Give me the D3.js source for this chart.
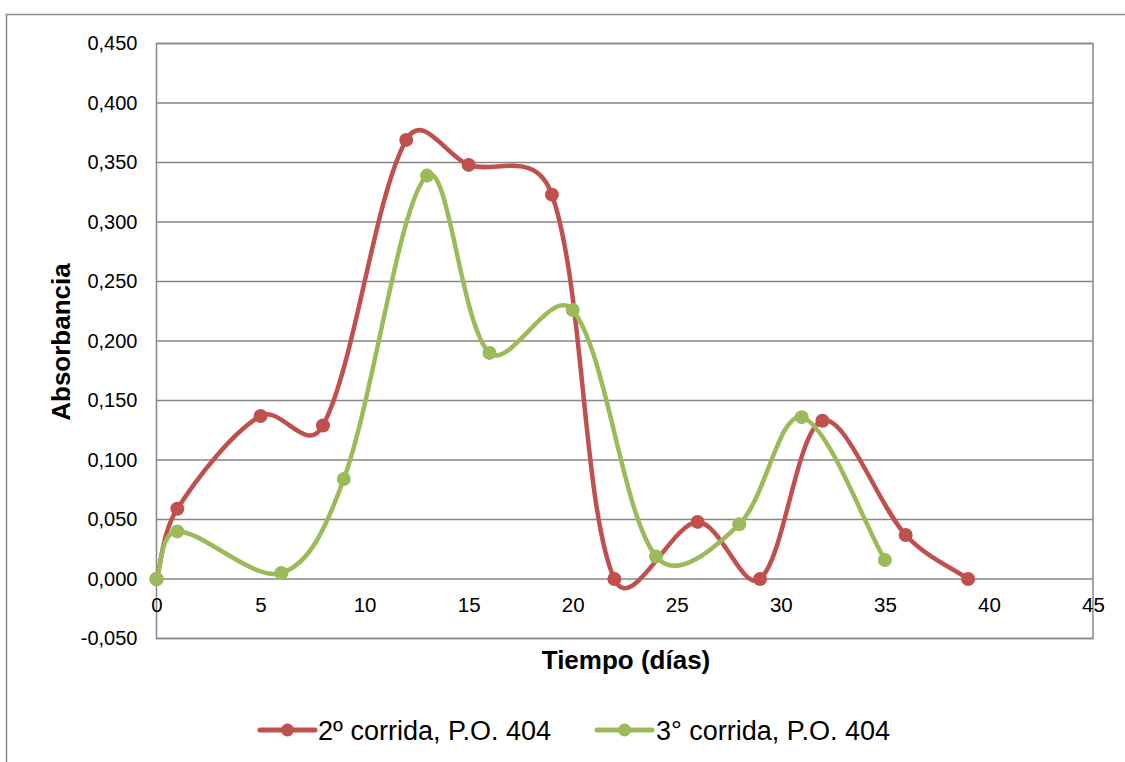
<!DOCTYPE html>
<html>
<head>
<meta charset="utf-8">
<script src="https://cdn.jsdelivr.net/npm/d3@7"></script>
<style>
  html, body { margin: 0; padding: 0; background: #fff; }
  svg { display: block; font-family: "Liberation Sans", Arial, sans-serif; }
</style>
</head>
<body>
<svg id="chart" width="1125" height="762"></svg>
<script>
// Absorbance readings over time (days)
const dias2 = [0, 1, 5, 8, 12, 15, 19, 22, 26, 29, 32, 36, 39];
const abs2  = [0.000, 0.059, 0.137, 0.129, 0.369, 0.348, 0.323, 0.000, 0.048, 0.000, 0.133, 0.037, 0.000];
const dias3 = [0, 1, 6, 9, 13, 16, 20, 24, 28, 31, 35];
const abs3  = [0.000, 0.040, 0.005, 0.084, 0.339, 0.190, 0.226, 0.019, 0.046, 0.136, 0.016];

const seriesNames = ["2º corrida, P.O. 404", "3° corrida, P.O. 404"];
const seriesColors = ["#c0504d", "#9bbb59"];

const xTicks = [0, 5, 10, 15, 20, 25, 30, 35, 40, 45];
const yTicks = [-0.05, 0, 0.05, 0.1, 0.15, 0.2, 0.25, 0.3, 0.35, 0.4, 0.45];

const svg = d3.select("#chart");
const plot = { left: 156.5, right: 1093, top: 43.5, bottom: 638.5 };

const x = d3.scaleLinear().domain([0, 45]).range([plot.left, plot.right]);
const y = d3.scaleLinear().domain([-0.05, 0.45]).range([plot.bottom, plot.top]);
const fmt = v => d3.format(".3f")(v).replace(".", ",").replace("−", "-");

// Spreadsheet-style smoothing: cubic Bézier segments; each tangent mixes a
// uniform Catmull-Rom weight with one scaled by neighbouring chord lengths.
function curveSmooth(context) {
  let pts = [];
  const mix = 0.5;
  return {
    areaStart() {}, areaEnd() {},
    lineStart() { pts = []; },
    point(px, py) { pts.push([+px, +py]); },
    lineEnd() {
      const n = pts.length;
      if (!n) return;
      const dist = (a, b) => Math.hypot(b[0] - a[0], b[1] - a[1]);
      const weight = (dNear, dFar) =>
        (1 - mix) / 6 + mix * (dNear + dFar > 0 ? dNear / (dNear + dFar) / 3 : 0);
      context.moveTo(pts[0][0], pts[0][1]);
      for (let i = 0; i < n - 1; i++) {
        const p0 = pts[Math.max(i - 1, 0)], p1 = pts[i], p2 = pts[i + 1], p3 = pts[Math.min(i + 2, n - 1)];
        const d01 = dist(p0, p1), d12 = dist(p1, p2), d23 = dist(p2, p3);
        const f1 = weight(d12, d01);
        const f2 = weight(d12, d23);
        context.bezierCurveTo(
          p1[0] + (p2[0] - p0[0]) * f1, p1[1] + (p2[1] - p0[1]) * f1,
          p2[0] - (p3[0] - p1[0]) * f2, p2[1] - (p3[1] - p1[1]) * f2,
          p2[0], p2[1]);
      }
    }
  };
}

// outer chart frame
svg.append("rect")
  .attr("x", 6.5).attr("y", 14.5).attr("width", 1130).attr("height", 760)
  .attr("fill", "none").attr("stroke", "#8c8c8c").attr("stroke-width", 1.5);

// horizontal gridlines
svg.append("g")
  .selectAll("line")
  .data(yTicks)
  .join("line")
  .attr("x1", plot.left).attr("x2", plot.right)
  .attr("y1", d => y(d)).attr("y2", d => y(d))
  .attr("stroke", "#868686").attr("stroke-width", 1.3);

// plot area border
svg.append("rect")
  .attr("x", plot.left).attr("y", plot.top)
  .attr("width", plot.right - plot.left).attr("height", plot.bottom - plot.top)
  .attr("fill", "none").attr("stroke", "#868686").attr("stroke-width", 1.5);

// y axis labels
const yAxis = d3.axisLeft(y).tickValues(yTicks).tickFormat(fmt).tickSize(0).tickPadding(19);
const gy = svg.append("g").attr("transform", `translate(${plot.left},0)`).call(yAxis);
gy.select(".domain").remove();
gy.selectAll("text").attr("font-size", 20).attr("fill", "#000")
  .attr("font-family", "Liberation Sans, Arial, sans-serif");

// x axis labels placed along the zero line
const xAxis = d3.axisBottom(x).tickValues(xTicks).tickFormat(d3.format("d")).tickSize(0).tickPadding(18);
const gx = svg.append("g").attr("transform", `translate(0,${y(0)})`).call(xAxis);
gx.select(".domain").remove();
gx.selectAll("text").attr("font-size", 20.5).attr("fill", "#000")
  .attr("font-family", "Liberation Sans, Arial, sans-serif");

// axis titles
svg.append("text")
  .attr("x", 626).attr("y", 669)
  .attr("text-anchor", "middle").attr("font-weight", "bold").attr("font-size", 26)
  .text("Tiempo (días)");
svg.append("text")
  .attr("transform", `translate(70,${342}) rotate(-90)`)
  .attr("text-anchor", "middle").attr("font-weight", "bold").attr("font-size", 26)
  .text("Absorbancia");

// smoothed series lines with markers
const line = d3.line().x(d => x(d[0])).y(d => y(d[1])).curve(curveSmooth);
const series = [d3.zip(dias2, abs2), d3.zip(dias3, abs3)];

series.forEach((pts, i) => {
  const g = svg.append("g");
  g.append("path").datum(pts)
    .attr("d", line).attr("fill", "none")
    .attr("stroke", seriesColors[i]).attr("stroke-width", 4.5)
    .attr("stroke-linejoin", "round").attr("stroke-linecap", "round");
  g.selectAll("circle").data(pts).join("circle")
    .attr("cx", d => x(d[0])).attr("cy", d => y(d[1])).attr("r", 7)
    .attr("fill", seriesColors[i]);
});

// legend
const legendItems = [{ x: 260, tx: 318 }, { x: 597, tx: 656 }];
legendItems.forEach((it, i) => {
  const g = svg.append("g");
  g.append("line").attr("x1", it.x).attr("x2", it.x + 55).attr("y1", 730).attr("y2", 730)
    .attr("stroke", seriesColors[i]).attr("stroke-width", 5).attr("stroke-linecap", "round");
  g.append("circle").attr("cx", it.x + 27.5).attr("cy", 730).attr("r", 6.5).attr("fill", seriesColors[i]);
  g.append("text").attr("x", it.tx).attr("y", 740).attr("font-size", 27).text(seriesNames[i]);
});
</script>
</body>
</html>
